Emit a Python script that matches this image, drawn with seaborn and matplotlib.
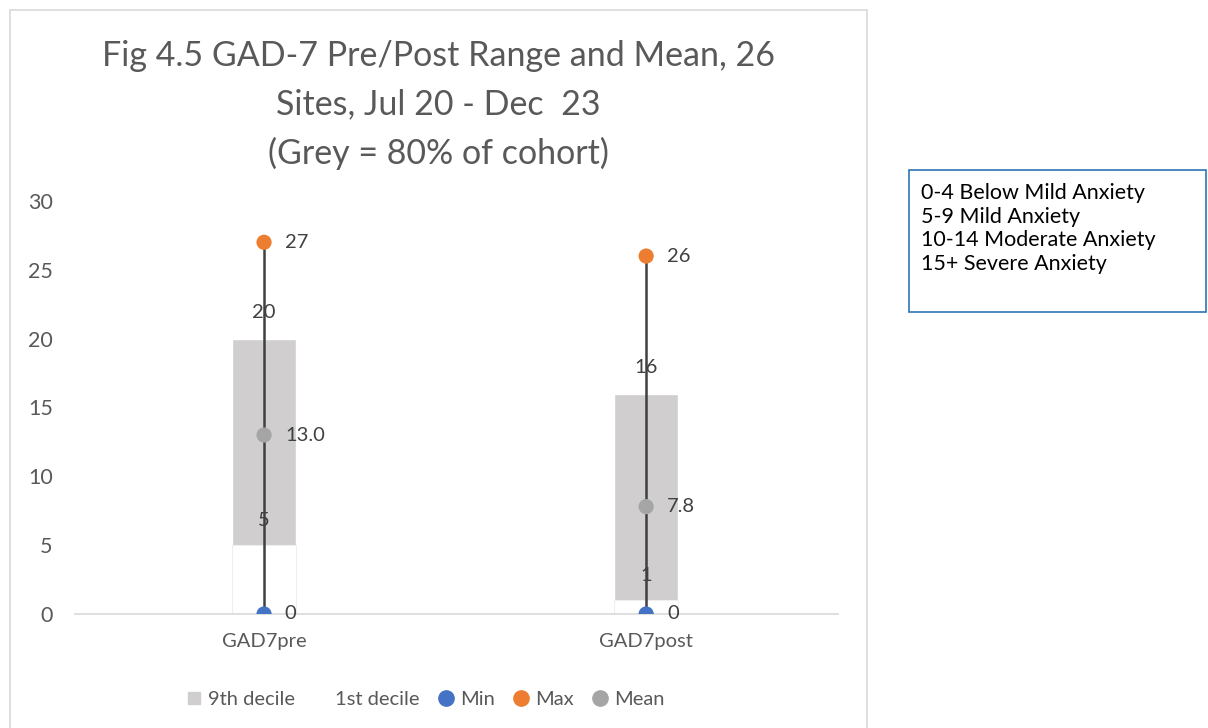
import matplotlib
matplotlib.use("Agg")
import matplotlib.pyplot as plt
from matplotlib.patches import Rectangle
from matplotlib.lines import Line2D
import seaborn as sns
import pandas as pd

# GAD-7 summary values per measurement point
categories = ["GAD7pre", "GAD7post"]
first_decile = [5, 1]
ninth_decile = [20, 16]
min_vals = [0, 0]
max_vals = [27, 26]
mean_vals = [13.0, 7.8]
yticks = [0, 5, 10, 15, 20, 25, 30]
bands = ["0-4 Below Mild Anxiety", "5-9 Mild Anxiety",
         "10-14 Moderate Anxiety", "15+ Severe Anxiety"]

sns.set_theme(style="white")
FONT = ["Lato", "DejaVu Sans"]
plt.rcParams["font.family"] = FONT

TXT = "#595959"
GREY_BAR = "#D0CECE"
BLUE = "#4472C4"
ORANGE = "#ED7D31"
MEAN_GREY = "#A5A5A5"

df = pd.DataFrame({"cat": categories, "p10": first_decile, "p90": ninth_decile,
                   "lo": min_vals, "hi": max_vals, "mean": mean_vals})

fig = plt.figure(figsize=(12.08, 7.28), dpi=100)
ax = fig.add_axes([0.062, 0.1566, 0.632, 0.5673])

# 80% band: grey up to the 9th decile, white (blank) below the 1st decile
sns.barplot(data=df, x="cat", y="p90", color=GREY_BAR, width=0.167,
            saturation=1, ax=ax, zorder=1)
sns.barplot(data=df, x="cat", y="p10", color="white", width=0.167,
            saturation=1, ax=ax, edgecolor="#EFEFEF", linewidth=0.8, zorder=1)

# range line from min to max
for i, row in df.iterrows():
    sns.lineplot(x=[i, i], y=[row["lo"], row["hi"]], color="#404040",
                 linewidth=1.8, ax=ax, zorder=2, estimator=None, sort=False)

ms = 120
sns.scatterplot(x=range(len(df)), y=df["lo"], color=BLUE, s=ms, ax=ax,
                zorder=3, edgecolor="none")
sns.scatterplot(x=range(len(df)), y=df["hi"], color=ORANGE, s=ms, ax=ax,
                zorder=3, edgecolor="none")
sns.scatterplot(x=range(len(df)), y=df["mean"], color=MEAN_GREY, s=ms, ax=ax,
                zorder=3, edgecolor="none")

lab_fs = 14.5
for i, row in df.iterrows():
    ax.annotate(f"{row['hi']:g}", (i, row["hi"]), xytext=(15, 0),
                textcoords="offset points", va="center", ha="left",
                fontsize=lab_fs, color="#404040")
    ax.annotate(f"{row['lo']:g}", (i, row["lo"]), xytext=(15, 0),
                textcoords="offset points", va="center", ha="left",
                fontsize=lab_fs, color="#404040")
    ax.annotate(f"{row['mean']:.1f}", (i, row["mean"]), xytext=(15, 0),
                textcoords="offset points", va="center", ha="left",
                fontsize=lab_fs, color="#404040")
    ax.annotate(f"{row['p90']:g}", (i, row["p90"]), xytext=(0, 19),
                textcoords="offset points", va="center", ha="center",
                fontsize=lab_fs, color="#404040")
    ax.annotate(f"{row['p10']:g}", (i, row["p10"]), xytext=(0, 18),
                textcoords="offset points", va="center", ha="center",
                fontsize=lab_fs, color="#404040")

ax.set_xlim(-0.495, 1.503)
ax.set_ylim(0, 30)
ax.set_yticks(yticks)
ax.set_yticklabels([str(t) for t in yticks], fontsize=15.5, color=TXT)
ax.tick_params(axis="y", length=0, pad=16)
ax.tick_params(axis="x", length=0, pad=14, labelsize=14.5, labelcolor=TXT)
ax.set_xlabel("")
ax.set_ylabel("")
for s in ["top", "right", "left"]:
    ax.spines[s].set_visible(False)
ax.spines["bottom"].set_color("#D9D9D9")
ax.spines["bottom"].set_linewidth(1.2)
ax.grid(False)

# title centred over the whole chart area
fig.text(438 / 1208, (728 - 105) / 728,
         "Fig 4.5 GAD-7 Pre/Post Range and Mean, 26\nSites, Jul 20 - Dec  23\n(Grey = 80% of cohort)",
         fontsize=24.5, color=TXT, linespacing=1.62, ha="center", va="center",
         multialignment="center")

# bottom legend
handles = [
    Line2D([], [], marker="s", linestyle="none", markersize=9, color=GREY_BAR),
    Line2D([], [], marker="s", linestyle="none", markersize=9, color="white"),
    Line2D([], [], marker="o", linestyle="none", markersize=11, color=BLUE),
    Line2D([], [], marker="o", linestyle="none", markersize=11, color=ORANGE),
    Line2D([], [], marker="o", linestyle="none", markersize=11, color=MEAN_GREY),
]
labels = ["9th decile", "1st decile", "Min", "Max", "Mean"]
fig.legend(handles, labels, loc="center", bbox_to_anchor=(425 / 1208, 0.039),
           ncol=5, frameon=False, fontsize=14.5, labelcolor=TXT,
           handletextpad=0.3, columnspacing=0.9, handlelength=0.8)

# chart frame
fig.patches.append(Rectangle((10 / 1208, -0.01), 857 / 1208, (728 - 10) / 728 + 0.01,
                             transform=fig.transFigure, fill=False,
                             edgecolor="#D9D9D9", linewidth=1.2))

# severity bands text box
fig.patches.append(Rectangle((909 / 1208, (728 - 312) / 728), 297 / 1208, 142 / 728,
                             transform=fig.transFigure, fill=False,
                             edgecolor="#2E75B6", linewidth=1.2))
fig.text(921 / 1208, (728 - 183) / 728, "\n".join(bands), fontsize=15.5,
         color="black", va="top", ha="left", linespacing=1.22, family=FONT)

fig.savefig("out.png", dpi=100, facecolor="white")
